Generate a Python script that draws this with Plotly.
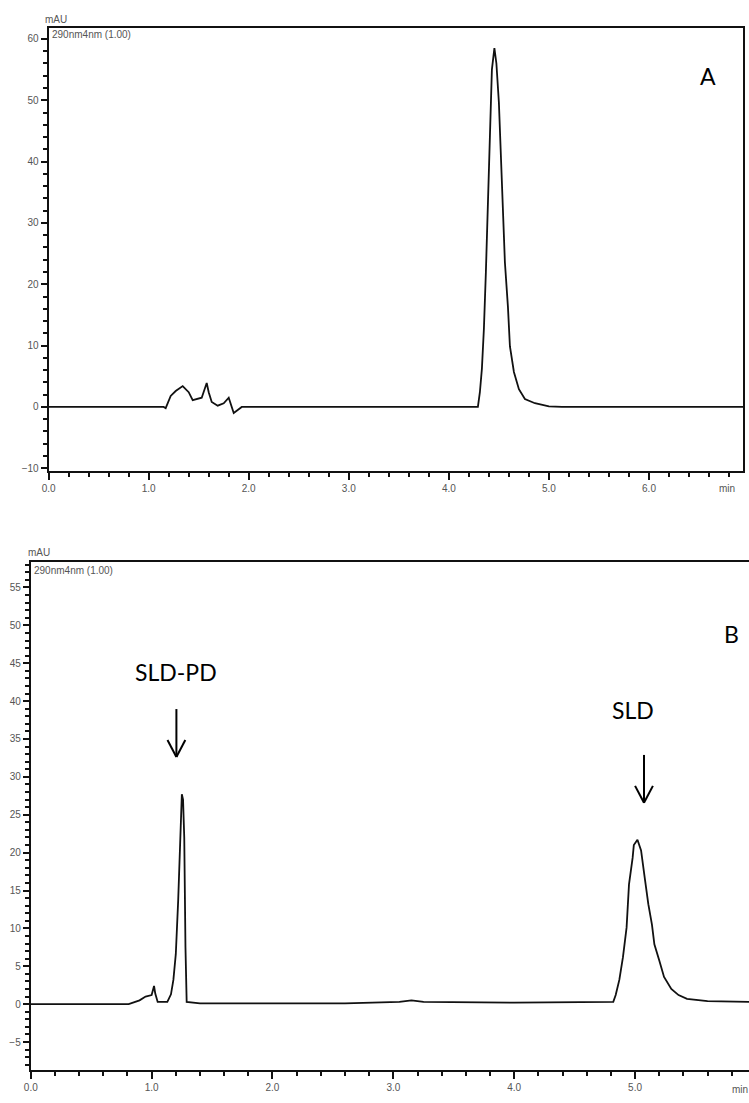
import plotly.graph_objects as go

W, H = 749, 1103

# ---------------- data ----------------
# Panel A
a_time = [0.00, 1.15, 1.17, 1.22, 1.27, 1.34, 1.40, 1.44, 1.53, 1.58, 1.60, 1.63, 1.69, 1.75, 1.80,
          1.83, 1.85, 1.89, 1.93, 4.29, 4.31, 4.33, 4.35, 4.37, 4.39, 4.41, 4.43, 4.455,
          4.475, 4.50, 4.52, 4.54, 4.56, 4.59, 4.61, 4.65, 4.70, 4.76, 4.86, 5.00, 5.13, 6.94]
a_mau = [0.0, 0.0, -0.2, 1.8, 2.6, 3.4, 2.4, 1.1, 1.5, 3.9, 2.4, 0.8, 0.2, 0.6, 1.5,
         0.2, -1.0, -0.5, 0.0, 0.0, 2.4, 6.2, 12.7, 22.0, 33.8, 45.7, 55.0, 58.5,
         56.0, 49.6, 40.3, 31.7, 23.6, 16.4, 9.9, 5.7, 2.9, 1.3, 0.6, 0.1, 0.0, 0.0]

# Panel B
b_time = [0.00, 0.81, 0.90, 0.95, 1.00, 1.02, 1.03, 1.05, 1.13, 1.16, 1.18, 1.20, 1.22, 1.24,
          1.25, 1.26, 1.27, 1.28, 1.29, 1.40, 2.60, 3.05, 3.15, 3.25, 4.00, 4.82, 4.84, 4.87,
          4.90, 4.93, 4.95, 4.98, 4.99, 5.02, 5.05, 5.08, 5.11, 5.14, 5.16, 5.20, 5.24, 5.30,
          5.36, 5.43, 5.60, 5.95]
b_mau = [0.0, 0.0, 0.5, 1.0, 1.2, 2.4, 1.4, 0.3, 0.3, 1.3, 3.2, 6.6, 13.8, 21.7,
         27.7, 27.0, 22.0, 7.5, 0.3, 0.1, 0.1, 0.3, 0.5, 0.3, 0.2, 0.3, 1.2, 3.2,
         6.2, 10.1, 15.8, 19.3, 21.0, 21.7, 20.3, 16.7, 13.2, 10.5, 7.9, 5.8, 3.6, 2.0,
         1.2, 0.7, 0.4, 0.3]

a_xticks = [0, 1, 2, 3, 4, 5, 6]
a_xlabels = ["0.0", "1.0", "2.0", "3.0", "4.0", "5.0", "6.0"]
b_xticks = [0, 1, 2, 3, 4, 5]
b_xlabels = ["0.0", "1.0", "2.0", "3.0", "4.0", "5.0"]
a_yticks = [-10, 0, 10, 20, 30, 40, 50, 60]
b_yticks = [-5, 0, 5, 10, 15, 20, 25, 30, 35, 40, 45, 50, 55]

# ---------------- helpers ----------------
def px(x):
    return x / W

def py(y):
    return 1 - y / H

LINE = "#111111"
TICKFONT = dict(family="Liberation Sans, Arial, sans-serif", size=10, color="#555555")
LABFONT = dict(family="Lato, Open Sans, sans-serif", size=23, color="#000000")

fig = go.Figure()
fig.add_trace(go.Scatter(x=a_time, y=a_mau, mode="lines", line=dict(color=LINE, width=1.8),
                         xaxis="x", yaxis="y", showlegend=False, hoverinfo="skip"))
fig.add_trace(go.Scatter(x=b_time, y=b_mau, mode="lines", line=dict(color=LINE, width=1.8),
                         xaxis="x2", yaxis="y2", showlegend=False, hoverinfo="skip"))

def xax(domain, rng, tv, tt, anchor):
    return dict(domain=domain, range=rng, anchor=anchor, tickvals=tv, ticktext=tt,
                showgrid=False, zeroline=False, showline=True, linecolor="#111", linewidth=2,
                mirror=True, ticks="outside", ticklen=7, tickwidth=1.5, tickcolor="#111",
                tickfont=TICKFONT,
                minor=dict(dtick=0.2, tick0=0, ticks="outside", ticklen=4, tickwidth=1.5,
                           tickcolor="#111", showgrid=False))

def yax(domain, rng, tv, mdt, anchor, mirror):
    return dict(domain=domain, range=rng, anchor=anchor, tickvals=tv,
                showgrid=False, zeroline=False, showline=True, linecolor="#111", linewidth=2,
                mirror=mirror, ticks="outside", ticklen=6, tickwidth=1.5, tickcolor="#111",
                tickfont=TICKFONT, ticklabelstandoff=0,
                minor=dict(dtick=mdt, tick0=0, ticks="outside", ticklen=4, tickwidth=1.5,
                           tickcolor="#111", showgrid=False))

fig.update_layout(
    width=W, height=H, autosize=False,
    margin=dict(l=0, r=0, t=0, b=0),
    paper_bgcolor="white", plot_bgcolor="white",
    xaxis=xax([px(42), px(743)], [0, 6.94], a_xticks, a_xlabels, "y"),
    yaxis=yax([py(472), py(28)], [-10.4, 61.8], a_yticks, 2, "x", True),
    xaxis2=xax([px(24), 1.0], [0, 5.943], b_xticks, b_xlabels, "y2"),
    yaxis2=yax([py(1073), py(564)], [-8.7, 58.3], b_yticks, 1, "x2", False),
)

ann = []
def text(x, y, s, font, xanchor="center"):
    ann.append(dict(x=px(x), y=py(y), xref="paper", yref="paper", text=s, showarrow=False,
                    font=font, xanchor=xanchor, yanchor="middle"))

small = dict(family="Liberation Sans, Arial, sans-serif", size=10, color="#555555")
text(49, 20, "mAU", small)
text(43, 35, "290nm4nm (1.00)", small, "left")
text(727, 490, "min", small)
text(32, 554, "mAU", small)
text(25, 572, "290nm4nm (1.00)", small, "left")
text(740, 1092, "min", small)

text(708, 76, "A", LABFONT)
text(731, 636, "B", LABFONT)
text(171, 674, "SLD-PD", LABFONT)
text(632, 712, "SLD", LABFONT)
fig.update_layout(annotations=ann)

shapes = []
def arrow(x, y0, y1):
    shapes.append(dict(type="line", xref="paper", yref="paper", x0=px(x), x1=px(x),
                       y0=py(y0), y1=py(y1), line=dict(color="#000", width=2)))
    for dx in (-9, 9):
        shapes.append(dict(type="line", xref="paper", yref="paper", x0=px(x + dx), x1=px(x),
                           y0=py(y1 - 17), y1=py(y1), line=dict(color="#000", width=2)))

arrow(171, 711, 759)
arrow(643, 757, 805)
fig.update_layout(shapes=shapes)

fig.write_html("out.html")
